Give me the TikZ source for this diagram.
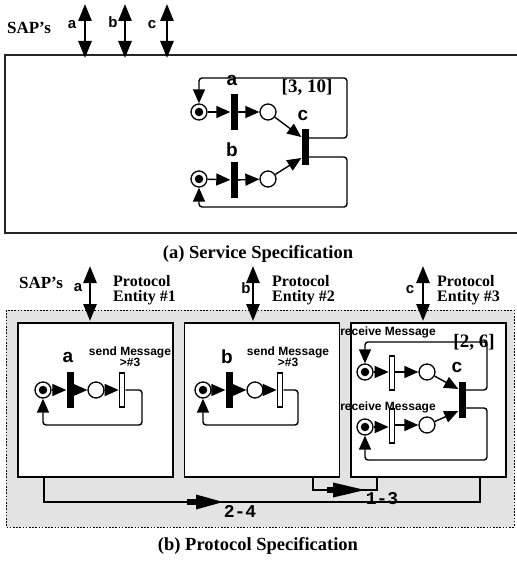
\documentclass[tikz,border=0pt]{standalone}
\usepackage{fontspec}
\setmainfont{Liberation Serif}
\newfontfamily\hvf{Liberation Sans}
\newfontfamily\crf{Liberation Mono}
\usetikzlibrary{arrows.meta}
\tikzset{
 ln/.style={line width=1.4pt},
 arc/.style={ln, -{Triangle[length=14pt,width=12pt]}},
 place/.style={circle, draw, line width=1.3pt, minimum size=16pt, inner sep=0pt, fill=white},
 tok/.style={circle, fill=black, minimum size=8.5pt, inner sep=0pt},
 fbar/.style={fill=black, minimum width=7pt, minimum height=36pt, inner sep=0pt},
 hbar/.style={draw, fill=white, line width=1.2pt, minimum width=5.5pt, minimum height=34pt, inner sep=0pt},
 sap/.style={line width=2.6pt, {Triangle[length=17pt,width=13pt]}-{Triangle[length=17pt,width=13pt]}},
 lbl/.style={font=\hvf\bfseries\fontsize{19}{19}\selectfont, inner sep=0pt},
 saplbl/.style={font=\hvf\bfseries\fontsize{15}{15}\selectfont, inner sep=0pt},
 msg/.style={font=\hvf\bfseries\fontsize{12}{12}\selectfont, inner sep=0pt, align=center},
 ser/.style={font=\bfseries\fontsize{16}{15}\selectfont, inner sep=0pt, align=left},
 captxt/.style={font=\bfseries\fontsize{18.5}{19}\selectfont, inner sep=0pt},
 intv/.style={font=\bfseries\fontsize{19}{19}\selectfont, inner sep=0pt},
 mono/.style={font=\crf\bfseries\fontsize{18}{18}\selectfont, inner sep=0pt},
 entity/.style={draw, fill=white, line width=1.4pt, minimum width=155pt, minimum height=154pt, inner sep=0pt},
}
\begin{document}
\begin{tikzpicture}[x=1pt,y=-1pt]
\useasboundingbox (0,0) rectangle (516,561);
% ---------------- (a) Service specification ----------------
\draw[line width=1.7pt, black!85] (522,55) -- (5,55) -- (5,233) -- (522,233);
\node[ser, font=\bfseries\fontsize{17}{17}\selectfont] (sapA) at (29,28) {SAP's};
\coordinate (sa1) at (85,4); \coordinate (sa2) at (85,58);
\coordinate (sb1) at (125,4); \coordinate (sb2) at (125,58);
\coordinate (sc1) at (167,4); \coordinate (sc2) at (167,58);
\draw[sap] (sa1) -- (sa2);
\draw[sap] (sb1) -- (sb2);
\draw[sap] (sc1) -- (sc2);
\node[saplbl] (la) at (72,25) {a};
\node[saplbl] (lb) at (113,22) {b};
\node[saplbl] (lc) at (152,25) {c};

\node[place] (p1) at (199,112) {};
\node[tok] (k1) at (p1.center) {};
\node[fbar] (ta) at (234,112) {};
\node[place] (p2) at (268,112) {};
\node[place] (p3) at (199,179) {};
\node[tok] (k3) at (p3.center) {};
\node[fbar] (tb) at (234,180) {};
\node[place] (p4) at (268,179) {};
\node[fbar] (tc) at (305,147) {};
\draw[arc] (p1) -- (ta);
\draw[arc] (ta) -- (p2);
\draw[arc] (p3) -- (tb);
\draw[arc] (tb) -- (p4);
\draw[arc] (p2) -- ([yshift=10pt]tc.west);
\draw[arc] (p4) -- ([yshift=-11pt]tc.west);
\draw[arc, rounded corners=3pt] ([yshift=9pt]tc.east) -- (347,138) -- (347,78) -- (199,78) -- (p1);
\draw[arc, rounded corners=3pt] ([yshift=-10pt]tc.east) -- (347,157) -- (347,207) -- (199,207) -- (p3);
\node[lbl] (tla) at (232,80) {a};
\node[lbl] (tlb) at (232,150) {b};
\node[lbl] (tlc) at (303,115) {c};
\node[intv] (i1) at (307,87) {[3, 10]};
\node[captxt] (capa) at (258,254) {(a) Service Specification};

% ---------------- (b) Protocol specification ----------------
\draw[fill=black!11, line width=0.9pt, dash pattern=on 1.6pt off 1.6pt] (6,310) rectangle (514,527);
\node[ser, font=\bfseries\fontsize{17}{17}\selectfont] (sapB) at (41,283) {SAP's};
\coordinate (ba1) at (90,266); \coordinate (ba2) at (90,321);
\coordinate (bb1) at (253,266); \coordinate (bb2) at (253,321);
\coordinate (bc1) at (423,266); \coordinate (bc2) at (423,321);
\draw[sap] (ba1) -- (ba2);
\draw[sap] (bb1) -- (bb2);
\draw[sap] (bc1) -- (bc2);
\node[saplbl] (bla) at (78,288) {a};
\node[saplbl] (blb) at (246,288) {b};
\node[saplbl] (blc) at (410,290) {c};
\node[ser, anchor=west] (pe1) at (113,290) {Protocol\\Entity \#1};
\node[ser, anchor=west] (pe2) at (272,290) {Protocol\\Entity \#2};
\node[ser, anchor=west] (pe3) at (437,290) {Protocol\\Entity \#3};

\node[entity] (e1) at (95.5,400) {};
\node[entity] (e2) at (262,400) {};
\node[entity] (e3) at (428.5,400) {};

% entity 1
\node[place] (q1) at (43,390) {};
\node[tok] (kq1) at (q1.center) {};
\node[fbar] (qa) at (70,390) {};
\node[place] (q2) at (96,390) {};
\node[hbar] (qs) at (122,390) {};
\draw[arc] (q1) -- (qa);
\draw[arc] (qa) -- (q2);
\draw[arc] (q2) -- (qs);
\draw[arc, rounded corners=3pt] (qs.east) -- (142,390) -- (142,425) -- (43,425) -- (q1);
\node[lbl] (l1a) at (68,357) {a};
\node[msg] (m1) at (130,357) {send Message\\[-1pt]>\#3};

% entity 2
\node[place] (r1) at (203,390) {};
\node[tok] (kr1) at (r1.center) {};
\node[fbar] (rb) at (229,390) {};
\node[place] (r2) at (255,390) {};
\node[hbar] (rs) at (280,390) {};
\draw[arc] (r1) -- (rb);
\draw[arc] (rb) -- (r2);
\draw[arc] (r2) -- (rs);
\draw[arc, rounded corners=3pt] (rs.east) -- (298,390) -- (298,425) -- (203,425) -- (r1);
\node[lbl] (l2b) at (227,357) {b};
\node[msg] (m2) at (288,357) {send Message\\[-1pt]>\#3};

% entity 3
\node[place] (s1) at (365,372) {};
\node[tok] (ks1) at (s1.center) {};
\node[hbar] (sr1) at (392,373) {};
\node[place] (s2) at (427,372) {};
\node[place] (s3) at (365,427) {};
\node[tok] (ks3) at (s3.center) {};
\node[hbar] (sr2) at (392,426) {};
\node[place] (s4) at (427,425) {};
\node[fbar] (sc) at (462,400) {};
\draw[arc] (s1) -- (sr1.west |- s1);
\draw[arc] (sr1.east |- s2) -- (s2);
\draw[arc] (s3) -- (sr2.west |- s3);
\draw[arc] (sr2.east |- s4) -- (s4);
\draw[arc] (s2) -- ([yshift=11pt]sc.west);
\draw[arc] (s4) -- ([yshift=-11pt]sc.west);
\draw[arc, rounded corners=3pt] ([yshift=10pt]sc.east) -- (487,390) -- (487,342) -- (365,342) -- (s1);
\draw[arc, rounded corners=3pt] ([yshift=-8pt]sc.east) -- (487,408) -- (487,460) -- (365,460) -- (s3);
\node[msg] (m3) at (388,332) {receive Message};
\node[msg] (m4) at (388,407) {receive Message};
\node[lbl] (l3c) at (457,367) {c};
\node[intv] (i2) at (474,342) {[2, 6]};

% message channels
\coordinate (f24) at (44,502);
\coordinate (g24) at (480,502);
\draw[ln] (e1.south -| f24) -- (f24) -- (g24) -- (e3.south -| g24);
\fill (187,499) rectangle (197,505);
\fill (196,494.5) -- (223,502) -- (196,509.5) -- cycle;
\node[mono] (t24) at (240,511) {2-4};
\coordinate (f13) at (313,490);
\coordinate (g13) at (377,490);
\draw[ln] (e2.south -| f13) -- (f13) -- (g13) -- (e3.south -| g13);
\fill (327,487) rectangle (334,493);
\fill (333,482.5) -- (365,490) -- (333,497.5) -- cycle;
\node[mono] (t13) at (382,499) {1-3};
\node[captxt] (capb) at (258,546) {(b) Protocol Specification};
\end{tikzpicture}
\end{document}
